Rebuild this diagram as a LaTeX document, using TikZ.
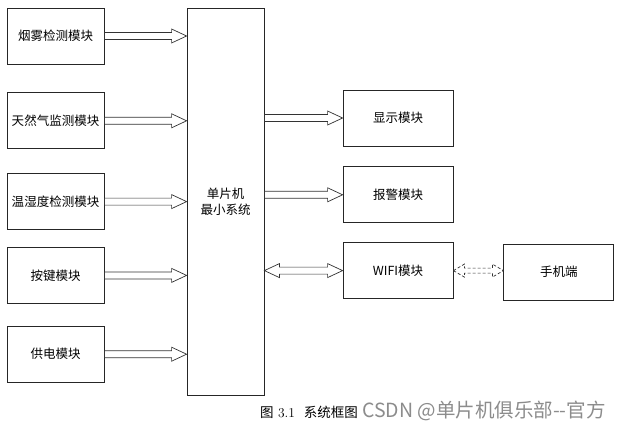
\documentclass[tikz,border=0pt]{standalone}
\usepackage{fontspec}
\newfontfamily\cjk{Noto Sans CJK SC}
\usetikzlibrary{positioning,calc}

\begin{document}
\begin{tikzpicture}[x=1pt, y=1pt,
    module/.style={rectangle, minimum width=97pt, minimum height=56pt, inner sep=0pt, draw=black!85, line width=0.8pt, align=center, font=\cjk\fontsize{12.5}{16}\selectfont},
    hollow/.style args={#1/#2/#3}{draw=black!80, line width=0.7pt, to path={let \p1=(\tikztostart), \p2=(\tikztotarget) in
        (\x1,\y1+#3) -- (\x2-#1,\y1+#3) -- (\x2-#1,\y1+#2) -- (\x2,\y1) -- (\x2-#1,\y1-#2) -- (\x2-#1,\y1-#3) -- (\x1,\y1-#3) -- cycle}},
    hollowboth/.style args={#1/#2/#3}{draw=black!80, line width=0.7pt, to path={let \p1=(\tikztostart), \p2=(\tikztotarget) in
        (\x1,\y1) -- (\x1+#1,\y1+#2) -- (\x1+#1,\y1+#3) -- (\x2-#1,\y1+#3) -- (\x2-#1,\y1+#2) -- (\x2,\y1)
        -- (\x2-#1,\y1-#2) -- (\x2-#1,\y1-#3) -- (\x1+#1,\y1-#3) -- (\x1+#1,\y1-#2) -- cycle}}
]
    \fill[white] (0,0) rectangle (620,429);
    \useasboundingbox (0,0) rectangle (620,429);

    % input modules
    \node[module] (smoke) at (55.5,393) {烟雾检测模块};
    \node[module, below=28pt of smoke] (gas) {天然气监测模块};
    \node[module, below=24pt of gas] (temp) {温湿度检测模块};
    \node[module, below=17pt of temp] (key) {按键模块};
    \node[module, below=22pt of key] (power) {供电模块};

    % controller
    \node[module, minimum width=77pt, minimum height=387pt] (mcu) at (225.5,227.5) {单片机\\最小系统};

    % output modules
    \node[module, minimum width=110pt] (disp) at (398,311) {显示模块};
    \node[module, minimum width=110pt, below=20pt of disp] (alarm) {报警模块};
    \node[module, minimum width=110pt, below=19pt of alarm] (wifi) {WIFI模块};
    \node[module, minimum width=110pt, right=50pt of wifi, yshift=-1.5pt] (phone) {手机端};

    \foreach \m in {smoke, gas, temp, key, power}
        \draw[hollow=15pt/7pt/3.5pt] (\m.east) to (mcu.west |- \m.east);
    \draw[hollow=15pt/7pt/3.5pt] (mcu.east |- disp.west) to (disp.west);
    \draw[hollow=15pt/7pt/3.5pt] (mcu.east |- alarm.west) to (alarm.west);
    \draw[hollowboth=15pt/7pt/3.5pt] (mcu.east |- wifi.west) to (wifi.west);
    \draw[hollowboth=11pt/6.5pt/2.5pt, dash pattern=on 3pt off 2pt] (wifi.east) to (phone.west |- wifi.east);

    % caption
    \node[font=\fontsize{13.5}{16}\selectfont, inner sep=0pt] (cap) at (309,17) {{\cjk 图} 3.1\ \ {\cjk 系统框图}};
    \node[font=\cjk\fontsize{19.5}{23}\selectfont, text=black!45, inner sep=0pt] (mark) at (484,18) {CSDN @单片机俱乐部--官方};
\end{tikzpicture}
\end{document}
